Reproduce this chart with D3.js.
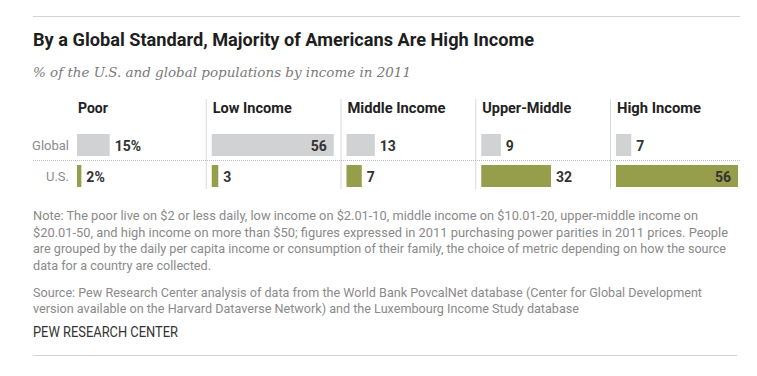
<!DOCTYPE html>
<html><head><meta charset="utf-8">
<script src="https://cdn.jsdelivr.net/npm/d3@7"></script>
<style>
html,body{margin:0;padding:0;background:#fff;}
svg{display:block;}
</style></head>
<body>
<svg id="chart" width="757" height="376"></svg>
<script>
const categories = ["Poor", "Low Income", "Middle Income", "Upper-Middle", "High Income"];
const rows = ["Global", "U.S."];
const globalValues = [15, 56, 13, 9, 7];
const usValues = [2, 3, 7, 32, 56];

const title = "By a Global Standard, Majority of Americans Are High Income";
const subtitle = "% of the U.S. and global populations by income in 2011";
const noteLines = [
  "Note: The poor live on $2 or less daily, low income on $2.01-10, middle income on $10.01-20, upper-middle income on",
  "$20.01-50, and high income on more than $50; figures expressed in 2011 purchasing power parities in 2011 prices. People",
  "are grouped by the daily per capita income or consumption of their family, the choice of metric depending on how the source",
  "data for a country are collected."
];
const sourceLines = [
  "Source: Pew Research Center analysis of data from the World Bank PovcalNet database (Center for Global Development",
  "version available on the Harvard Dataverse Network) and the Luxembourg Income Study database"
];
const credit = "PEW RESEARCH CENTER";

const svg = d3.select("#chart");
const sans = "Roboto, 'Liberation Sans', sans-serif";

function fit(sel, w) {
  sel.each(function() {
    const n = this.getComputedTextLength();
    if (Math.abs(n - w) > 1) {
      d3.select(this).attr("textLength", w).attr("lengthAdjust", "spacingAndGlyphs");
    }
  });
}

// rules
svg.append("line").attr("x1", 33).attr("x2", 740).attr("y1", 16.5).attr("y2", 16.5)
  .attr("stroke", "#d3d3d3").attr("stroke-width", 1);
svg.append("line").attr("x1", 33).attr("x2", 737).attr("y1", 355.5).attr("y2", 355.5)
  .attr("stroke", "#d3d3d3").attr("stroke-width", 1);

// title
svg.append("text").attr("x", 33).attr("y", 45.5).text(title)
  .attr("font-family", sans).attr("font-weight", "bold")
  .attr("font-size", 18).attr("fill", "#1e1e1e").call(fit, 501);
svg.append("text").attr("x", 33).attr("y", 77).text(subtitle)
  .attr("font-family", "Georgia, 'DejaVu Serif', serif").attr("font-style", "italic")
  .attr("font-size", 13).attr("fill", "#7a7a7a").call(fit, 378);

// scales
const colX = d3.scaleBand().domain(categories).range([77, 77 + 5 * 134.75]).paddingInner(0).paddingOuter(0);
const rowY = d3.scaleBand().domain(rows).range([134, 187]).paddingInner(9 / 31).paddingOuter(0);
const w = d3.scaleLinear().domain([0, 56]).range([0, 122]);

// separators
svg.selectAll("line.sep").data(categories.slice(1)).join("line").attr("class", "sep")
  .attr("x1", d => colX(d) - 5.5).attr("x2", d => colX(d) - 5.5)
  .attr("y1", 99).attr("y2", 189).attr("stroke", "#d8d8d8").attr("stroke-width", 1);

// dotted line
svg.append("line").attr("x1", 33).attr("x2", 740).attr("y1", 160.5).attr("y2", 160.5)
  .attr("stroke", "#bdbdbd").attr("stroke-width", 1).attr("stroke-dasharray", "1,1");

// headers
const hdrW = [30, 79, 98, 89, 84];
svg.selectAll("text.hdr").data(categories).join("text").attr("class", "hdr")
  .attr("x", d => colX(d) + 1).attr("y", 112.5).text(d => d)
  .attr("font-family", sans).attr("font-weight", "bold")
  .attr("font-size", 14).attr("fill", "#222")
  .each(function(d, i) { d3.select(this).call(fit, hdrW[i]); });

// row labels
svg.selectAll("text.rowlab").data(rows).join("text").attr("class", "rowlab")
  .attr("x", 69).attr("y", d => rowY(d) + rowY.bandwidth() / 2 + 4.5)
  .attr("text-anchor", "end").text(d => d)
  .attr("font-family", sans)
  .attr("font-size", 13).attr("fill", "#8a8a8a");

const data = [];
categories.forEach((c, i) => {
  data.push({cat: c, row: "Global", v: globalValues[i], i});
  data.push({cat: c, row: "U.S.", v: usValues[i], i});
});

svg.selectAll("rect.bar").data(data).join("rect").attr("class", "bar")
  .attr("x", d => colX(d.cat)).attr("y", d => rowY(d.row))
  .attr("width", d => w(d.v)).attr("height", rowY.bandwidth())
  .attr("fill", d => d.row === "Global" ? "#d1d2d4" : "#969d4b");

svg.selectAll("text.val").data(data).join("text").attr("class", "val")
  .attr("x", d => d.v >= 40 ? colX(d.cat) + w(d.v) - 7 : colX(d.cat) + w(d.v) + 5)
  .attr("y", d => rowY(d.row) + rowY.bandwidth() / 2 + 5.5)
  .attr("text-anchor", d => d.v >= 40 ? "end" : "start")
  .text(d => d.i === 0 ? d.v + "%" : d.v)
  .attr("font-family", sans).attr("font-weight", "bold")
  .attr("font-size", 14).attr("fill", "#333");

// notes
const noteW = [665, 695, 693, 178];
const noteY = [220, 236.5, 253, 269.5];
noteLines.forEach((t, i) => {
  svg.append("text").attr("x", 33).attr("y", noteY[i]).text(t)
    .attr("font-family", sans).attr("font-size", 13).attr("fill", "#8a8a8a").call(fit, noteW[i]);
});
const srcW = [669, 546];
const srcY = [296.5, 313];
sourceLines.forEach((t, i) => {
  svg.append("text").attr("x", 33).attr("y", srcY[i]).text(t)
    .attr("font-family", sans).attr("font-size", 13).attr("fill", "#8a8a8a").call(fit, srcW[i]);
});
svg.append("text").attr("x", 33).attr("y", 337).text(credit)
  .attr("font-family", sans).attr("font-size", 14).attr("fill", "#333").call(fit, 145);
</script>
</body></html>
